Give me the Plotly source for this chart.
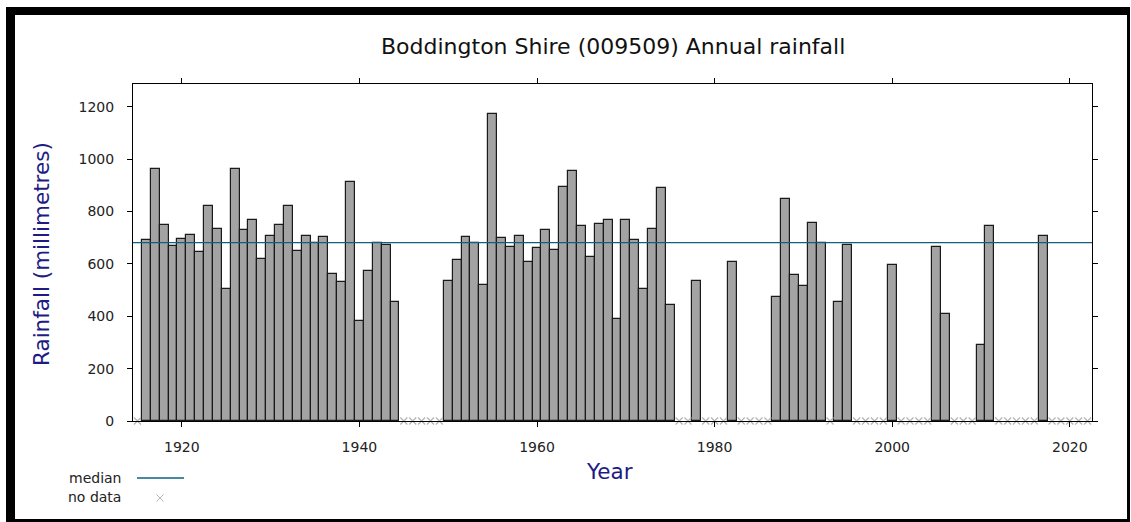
import plotly.graph_objects as go

# Annual rainfall (mm) for Boddington Shire, station 009509
years = [
    1916, 1917, 1918, 1919, 1920, 1921, 1922, 1923, 1924, 1925,
    1926, 1927, 1928, 1929, 1930, 1931, 1932, 1933, 1934, 1935,
    1936, 1937, 1938, 1939, 1940, 1941, 1942, 1943, 1944,
    1950, 1951, 1952, 1953, 1954, 1955, 1956, 1957, 1958, 1959,
    1960, 1961, 1962, 1963, 1964, 1965, 1966, 1967, 1968, 1969,
    1970, 1971, 1972, 1973, 1974, 1975,
    1978, 1982, 1987, 1988, 1989, 1990, 1991, 1992, 1994, 1995,
    2000, 2005, 2006, 2010, 2011, 2017,
]
rainfall = [
    690, 961, 748, 668, 695, 712, 646, 823, 735, 503,
    961, 730, 766, 618, 708, 748, 823, 650, 708, 678,
    703, 562, 531, 913, 383, 574, 680, 673, 455,
    533, 614, 703, 680, 521, 1171, 698, 664, 707, 606,
    659, 730, 654, 895, 953, 743, 627, 753, 766, 391,
    766, 690, 503, 735, 890, 444,
    533, 609, 472, 846, 556, 517, 757, 681, 455, 672,
    597, 664, 410, 290, 744, 707,
]
no_data_years = [
    1915, 1945, 1946, 1947, 1948, 1949, 1976, 1977, 1979, 1980, 1981,
    1983, 1984, 1985, 1986, 1993, 1996, 1997, 1998, 1999,
    2001, 2002, 2003, 2004, 2007, 2008, 2009,
    2012, 2013, 2014, 2015, 2016, 2018, 2019, 2020, 2021, 2022,
]
median_rainfall = 681

W, H = 1131, 522
L, R, T, B = 133, 39, 84, 101
PW, PH = W - L - R, H - T - B


def fx(px):
    return (px - L) / PW


def fy(py):
    return (H - B - py) / PH


FONT = "DejaVu Sans"
TITLE_BLUE = "#1c1c84"
MEDIAN_COL = "#0e5f80"
NODATA_COL = "#b4b4b4"

fig = go.Figure()

fig.add_trace(go.Bar(
    x=years, y=rainfall, width=1,
    marker=dict(color="#a3a3a3", line=dict(color="#1a1a1a", width=1.2)),
    showlegend=False,
))

fig.add_trace(go.Scatter(
    x=[1914.5, 2022.5], y=[median_rainfall, median_rainfall],
    mode="lines", line=dict(color=MEDIAN_COL, width=1.3),
    showlegend=False,
))

fig.add_trace(go.Scatter(
    x=no_data_years, y=[0] * len(no_data_years),
    mode="markers", cliponaxis=False,
    marker=dict(symbol="x-thin-open", size=7, color=NODATA_COL,
                line=dict(color=NODATA_COL, width=1.2)),
    showlegend=False,
))

shapes = []
# outer black frame
for x0, y0, x1, y1 in [(6, 7, 1130, 15), (6, 7, 15, 522),
                       (1127, 7, 1130, 522), (6, 519, 1130, 522)]:
    shapes.append(dict(type="rect", xref="paper", yref="paper",
                       x0=fx(x0), x1=fx(x1), y0=fy(y0), y1=fy(y1),
                       line=dict(width=0), fillcolor="black", layer="above"))
# legend: median line
shapes.append(dict(type="line", xref="paper", yref="paper",
                   x0=fx(137), x1=fx(184), y0=fy(478), y1=fy(478),
                   line=dict(color=MEDIAN_COL, width=1.5)))
# legend: no-data cross
for dx0, dy0, dx1, dy1 in [(-3.5, -3.5, 3.5, 3.5), (-3.5, 3.5, 3.5, -3.5)]:
    shapes.append(dict(type="line", xref="paper", yref="paper",
                       x0=fx(160 + dx0), x1=fx(160 + dx1),
                       y0=fy(498 + dy0), y1=fy(498 + dy1),
                       line=dict(color=NODATA_COL, width=1)))

annotations = [
    dict(text="Boddington Shire (009509) Annual rainfall",
         xref="paper", yref="paper", x=fx(613), y=fy(46),
         xanchor="center", yanchor="middle", showarrow=False,
         font=dict(family=FONT, size=22, color="#111")),
    dict(text="Rainfall (millimetres)", textangle=-90,
         xref="paper", yref="paper", x=fx(41), y=fy(254),
         xanchor="center", yanchor="middle", showarrow=False,
         font=dict(family=FONT, size=21.5, color=TITLE_BLUE)),
    dict(text="Year",
         xref="paper", yref="paper", x=fx(609), y=fy(471),
         xanchor="center", yanchor="middle", showarrow=False,
         font=dict(family=FONT, size=21.5, color=TITLE_BLUE)),
    dict(text="median",
         xref="paper", yref="paper", x=fx(123), y=fy(478),
         xanchor="right", yanchor="middle", showarrow=False,
         font=dict(family=FONT, size=14, color="#222")),
    dict(text="no data",
         xref="paper", yref="paper", x=fx(123), y=fy(497),
         xanchor="right", yanchor="middle", showarrow=False,
         font=dict(family=FONT, size=14, color="#222")),
]

axis_common = dict(
    showgrid=False, zeroline=False, showline=True, linecolor="black",
    linewidth=1, mirror="ticks", ticks="outside", ticklen=5,
    tickcolor="black", tickwidth=1,
    tickfont=dict(family=FONT, size=14, color="#222"),
)

fig.update_layout(
    width=W, height=H,
    margin=dict(l=L, r=R, t=T, b=B, pad=0),
    paper_bgcolor="white", plot_bgcolor="white",
    bargap=0,
    xaxis=dict(range=[1914.5, 2022.5], tick0=1920, dtick=20,
               ticklabelstandoff=8, **axis_common),
    yaxis=dict(range=[0, 1287], tick0=0, dtick=200,
               ticklabelstandoff=10, **axis_common),
    shapes=shapes,
    annotations=annotations,
)

fig.write_html("out.html")
